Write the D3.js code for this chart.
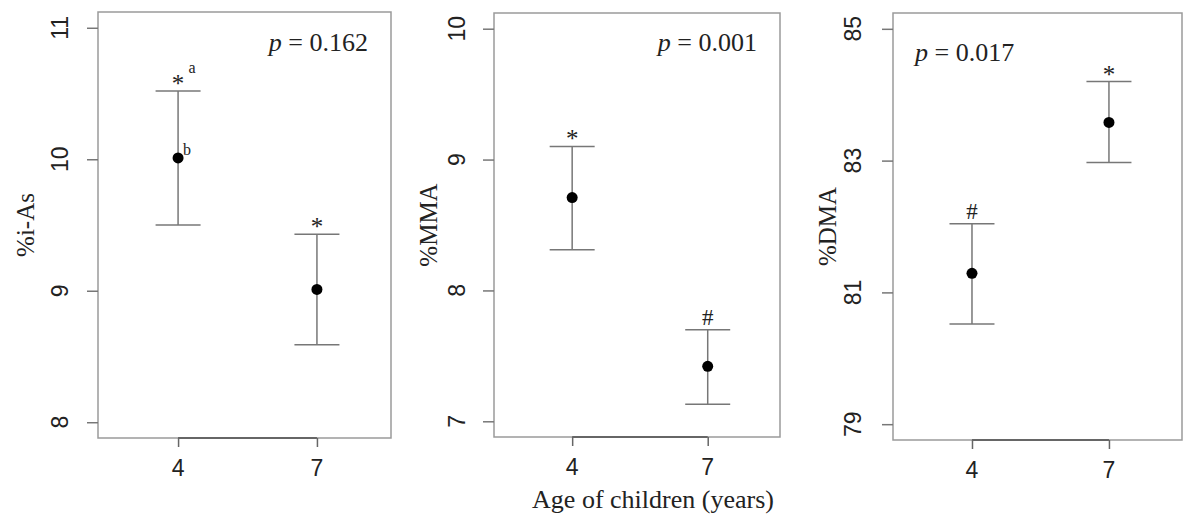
<!DOCTYPE html>
<html>
<head>
<meta charset="utf-8">
<script src="https://cdn.jsdelivr.net/npm/d3@7"></script>
<style>
  body { margin: 0; background: #fff; }
  svg { display: block; }
</style>
</head>
<body>
<div id="chart"></div>
<script>
// ---- data ----
var ages = [4, 7];
var yLabels = ["%i-As", "%MMA", "%DMA"];
var yTicks = [[8, 9, 10, 11], [7, 8, 9, 10], [79, 81, 83, 85]];
var means = [[10.01, 9.01], [8.71, 7.42], [81.29, 83.58]];
var upper = [[10.52, 9.43], [9.10, 7.70], [82.04, 84.20]];
var lower = [[9.50, 8.59], [8.31, 7.13], [80.52, 82.97]];
var pValues = ["0.162", "0.001", "0.017"];
var marks = [["*", "*"], ["*", "#"], ["#", "*"]];
var xTitle = "Age of children (years)";

// ---- layout (pixel frames of each panel box) ----
var frames = [
    { left: 98, right: 391, top: 12, bottom: 438, tickLab: 38, titleOff: 73, pAnchor: "end", pY: 51 },
    { left: 494, right: 780, top: 13, bottom: 437, tickLab: 37, titleOff: 66, pAnchor: "end", pY: 51 },
    { left: 893, right: 1182, top: 13, bottom: 440, tickLab: 40, titleOff: 66, pAnchor: "start", pY: 61 }
];

var svg = d3.select("#chart").append("svg")
    .attr("width", 1184)
    .attr("height", 525);

var sans = "Liberation Sans, Arial, sans-serif";
var serif = "Liberation Serif, Times New Roman, serif";

for (var i = 0; i < frames.length; i++) {
    var f = frames[i];
    var t = yTicks[i];
    var r = t[t.length - 1] - t[0];

    var x = d3.scaleLinear()
        .domain([2.27, 8.6])
        .range([f.left, f.right]);
    var y = d3.scaleLinear()
        .domain([t[0] - 0.04 * r, t[t.length - 1] + 0.04 * r])
        .range([f.bottom, f.top]);

    var g = svg.append("g");

    // box
    g.append("rect")
        .attr("x", f.left)
        .attr("y", f.top)
        .attr("width", f.right - f.left)
        .attr("height", f.bottom - f.top)
        .attr("fill", "none")
        .attr("stroke", "#9a9a9a")
        .attr("stroke-width", 1.5);

    // y axis
    var yAxis = g.append("g")
        .attr("transform", "translate(" + f.left + ",0)")
        .call(d3.axisLeft(y).tickValues(t).tickSize(11).tickSizeOuter(0).tickFormat(""));
    yAxis.select(".domain").remove();
    yAxis.selectAll("line").attr("stroke", "#777").attr("stroke-width", 1.5);

    g.selectAll(".ylab")
        .data(t)
        .enter()
        .append("text")
        .attr("transform", function (d) { return "translate(" + (f.left - f.tickLab) + "," + y(d) + ") rotate(-90)"; })
        .attr("text-anchor", "middle")
        .attr("dominant-baseline", "central")
        .style("font-family", sans)
        .style("font-size", "23px")
        .attr("fill", "#222")
        .text(function (d) { return d; });

    // x axis
    var xAxis = g.append("g")
        .attr("transform", "translate(0," + f.bottom + ")")
        .call(d3.axisBottom(x).tickValues(ages).tickSize(9).tickSizeOuter(0).tickFormat(""));
    xAxis.select(".domain").remove();
    xAxis.selectAll("line").attr("stroke", "#666").attr("stroke-width", 1.5);
    g.append("line")
        .attr("x1", x(ages[0]))
        .attr("x2", x(ages[ages.length - 1]))
        .attr("y1", f.bottom)
        .attr("y2", f.bottom)
        .attr("stroke", "#666")
        .attr("stroke-width", 1.8);

    g.selectAll(".xlab")
        .data(ages)
        .enter()
        .append("text")
        .attr("x", function (d) { return x(d); })
        .attr("y", f.bottom + 38)
        .attr("text-anchor", "middle")
        .style("font-family", sans)
        .style("font-size", "23px")
        .attr("fill", "#222")
        .text(function (d) { return d; });

    // y title
    g.append("text")
        .attr("transform", "translate(" + (f.left - f.titleOff) + "," + ((f.top + f.bottom) / 2) + ") rotate(-90)")
        .attr("text-anchor", "middle")
        .attr("dominant-baseline", "central")
        .style("font-family", serif)
        .style("font-size", "25px")
        .attr("fill", "#222")
        .text(yLabels[i]);

    // p value
    var pt = g.append("text")
        .attr("x", f.pAnchor == "end" ? f.right - 23 : f.left + 22)
        .attr("y", f.pY)
        .attr("text-anchor", f.pAnchor)
        .style("font-family", serif)
        .style("font-size", "26px")
        .attr("fill", "#222");
    pt.append("tspan").style("font-style", "italic").text("p");
    pt.append("tspan").text(" = " + pValues[i]);

    // error bars
    var rows = ages.map(function (a, j) {
        return { age: a, m: means[i][j], hi: upper[i][j], lo: lower[i][j], mark: marks[i][j] };
    });

    g.selectAll(".stem")
        .data(rows)
        .enter()
        .append("line")
        .attr("x1", function (d) { return x(d.age); })
        .attr("x2", function (d) { return x(d.age); })
        .attr("y1", function (d) { return y(d.hi); })
        .attr("y2", function (d) { return y(d.lo); })
        .attr("stroke", "#777")
        .attr("stroke-width", 1.5);

    ["hi", "lo"].forEach(function (k) {
        g.selectAll(".cap" + k)
            .data(rows)
            .enter()
            .append("line")
            .attr("x1", function (d) { return x(d.age) - 22.5; })
            .attr("x2", function (d) { return x(d.age) + 22.5; })
            .attr("y1", function (d) { return y(d[k]); })
            .attr("y2", function (d) { return y(d[k]); })
            .attr("stroke", "#777")
            .attr("stroke-width", 1.5);
    });

    g.selectAll(".pt")
        .data(rows)
        .enter()
        .append("circle")
        .attr("cx", function (d) { return x(d.age); })
        .attr("cy", function (d) { return y(d.m); })
        .attr("r", 5.5)
        .attr("fill", "#000");

    g.selectAll(".mark")
        .data(rows)
        .enter()
        .append("text")
        .attr("x", function (d) { return x(d.age); })
        .attr("y", function (d) { return y(d.hi) - (d.mark == "#" ? 5 : -1); })
        .attr("text-anchor", "middle")
        .style("font-family", serif)
        .style("font-size", function (d) { return d.mark == "#" ? "23px" : "25px"; })
        .attr("fill", "#222")
        .text(function (d) { return d.mark; });

    // superscripts on first panel
    if (i == 0) {
        g.append("text")
            .attr("x", x(ages[0]) + 14)
            .attr("y", y(upper[0][0]) - 18)
            .attr("text-anchor", "middle")
            .style("font-family", serif)
            .style("font-size", "16px")
            .attr("fill", "#222")
            .text("a");
        g.append("text")
            .attr("x", x(ages[0]) + 9)
            .attr("y", y(means[0][0]) - 3)
            .attr("text-anchor", "middle")
            .style("font-family", serif)
            .style("font-size", "16px")
            .attr("fill", "#222")
            .text("b");
    }
}

svg.append("text")
    .attr("x", 653)
    .attr("y", 508)
    .attr("text-anchor", "middle")
    .style("font-family", serif)
    .style("font-size", "26px")
    .attr("fill", "#222")
    .text(xTitle);
</script>
</body>
</html>
